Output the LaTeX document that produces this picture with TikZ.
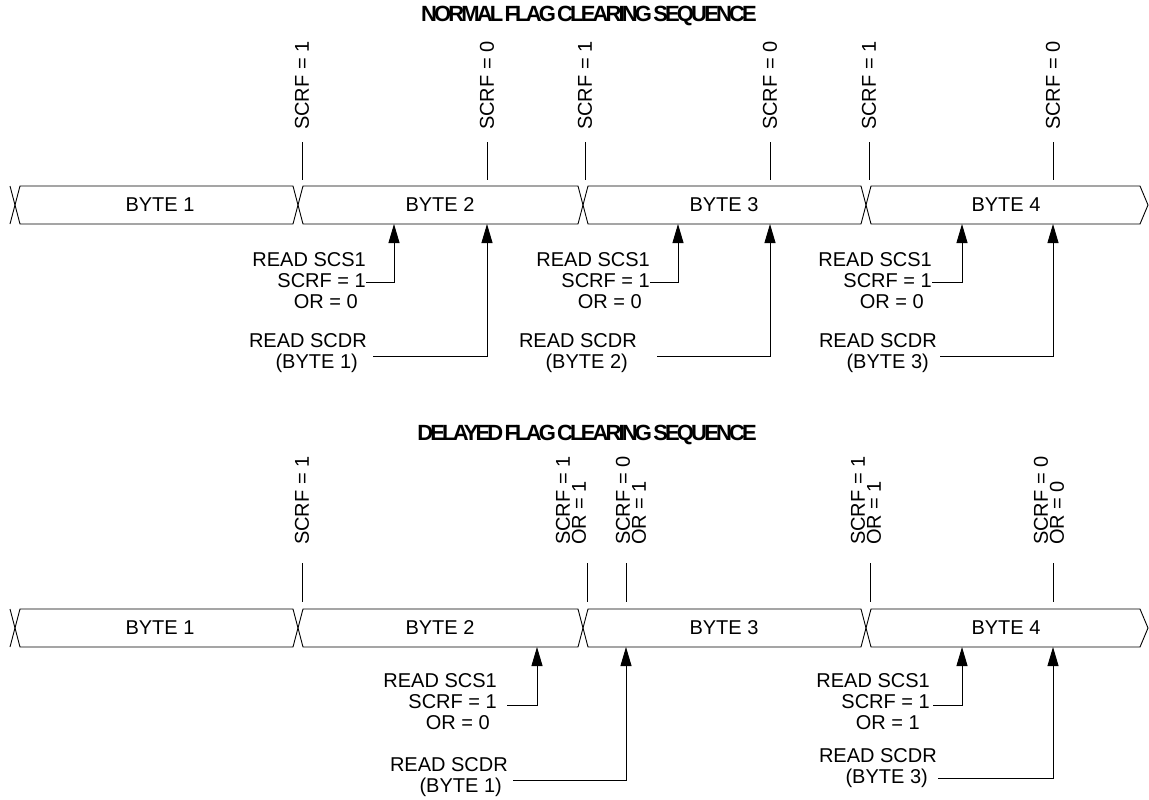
\documentclass[tikz,border=0pt]{standalone}
\usepackage{fontspec}
\setmainfont{Liberation Sans}
\newfontfamily\titlefont[LetterSpace=-13,WordSpace=0.4]{Liberation Sans}
\usetikzlibrary{arrows.meta}
\begin{document}
\begin{tikzpicture}[x=1pt,y=-1pt,
  bus/.style={line width=0.9pt, line join=miter},
  tickline/.style={line width=0.8pt},
  arr/.style={line width=0.9pt, -{Triangle[length=19pt,width=11pt]}},
  txt/.style={font=\fontsize{20}{21}\selectfont, inner sep=0pt},
  blk/.style={txt, align=right, anchor=east},
  vlbl/.style={font=\fontsize{20}{16}\selectfont, inner sep=0pt, rotate=90, anchor=west, align=left},
  ttl/.style={font=\titlefont\bfseries\fontsize{22}{24}\selectfont, inner sep=0pt, anchor=east}
]
\useasboundingbox (0,0) rectangle (1149,800);

% ---------- buses ----------
\foreach \t/\c/\b in {186/205/224, 609/628/647} {
  \draw[bus] (10,\t) -- (15,\c) -- (10,\b);
  \draw[bus] (15,\c) -- (20,\t) -- (293,\t) -- (298,\c) -- (293,\b) -- (20,\b) -- cycle;
  \draw[bus] (298,\c) -- (303,\t) -- (578,\t) -- (583,\c) -- (578,\b) -- (303,\b) -- cycle;
  \draw[bus] (583,\c) -- (588,\t) -- (861,\t) -- (866,\c) -- (861,\b) -- (588,\b) -- cycle;
  \draw[bus] (866,\c) -- (871,\t) -- (1140,\t) -- (1148,\c) -- (1140,\b) -- (871,\b) -- cycle;
}

% ---------- titles ----------
\node[ttl] (t1) at (757,15.5) {NORMAL FLAG CLEARING SEQUENCE};
\node[ttl] (t2) at (757,434.5) {DELAYED FLAG CLEARING SEQUENCE};

% ---------- byte labels ----------
\node[txt] (na) at (160,205) {BYTE 1};
\node[txt] (nb) at (440,205) {BYTE 2};
\node[txt] (nc) at (724,205) {BYTE 3};
\node[txt] (nd) at (1006,205) {BYTE 4};
\node[txt] (da) at (160,628) {BYTE 1};
\node[txt] (db) at (440,628) {BYTE 2};
\node[txt] (dc) at (724,628) {BYTE 3};
\node[txt] (dd) at (1006,628) {BYTE 4};

% ---------- normal: flag labels and ticks ----------
\foreach \x/\v [count=\i] in {302/1,487/0,585/1,770/0,869/1,1053/0} {
  \node[vlbl] (nl\i) at (\x,130) {SCRF = \v};
  \coordinate (nt\i a) at (\x,142);
  \coordinate (nt\i b) at (\x,180);
  \draw[tickline] (nt\i a) -- (nt\i b);
}

% ---------- delayed: flag labels and ticks ----------
\node[vlbl] (dl1) at (302,545) {SCRF = 1};
\node[vlbl] (dl2) at (571,545) {SCRF = 1\\OR = 1};
\node[vlbl] (dl3) at (631,545) {SCRF = 0\\OR = 1};
\node[vlbl] (dl4) at (866,545) {SCRF = 1\\OR = 1};
\node[vlbl] (dl5) at (1049,545) {SCRF = 0\\OR = 0};
\foreach \x [count=\i] in {302,587,626,870,1053} {
  \coordinate (dt\i a) at (\x,563);
  \coordinate (dt\i b) at (\x,602);
  \draw[tickline] (dt\i a) -- (dt\i b);
}

% ---------- normal: read annotations ----------
\coordinate (ts1) at (394,224);
\coordinate (tr1) at (487,224);
\coordinate (ts2) at (678,224);
\coordinate (tr2) at (770,224);
\coordinate (ts3) at (962,224);
\coordinate (tr3) at (1053,224);

\node[blk] (s1) at (366,281) {READ SCS1\\SCRF = 1\hspace*{4pt}\\OR = 0\hspace*{8pt}};
\node[blk] (r1) at (367,353.5) {READ SCDR\\(BYTE 1)\hspace*{9pt}};
\node[blk] (s2) at (650,281) {READ SCS1\\SCRF = 1\hspace*{4pt}\\OR = 0\hspace*{8pt}};
\node[blk] (r2) at (637,353.5) {READ SCDR\\(BYTE 2)\hspace*{9pt}};
\node[blk] (s3) at (932,281) {READ SCS1\\SCRF = 1\hspace*{4pt}\\OR = 0\hspace*{8pt}};
\node[blk] (r3) at (937,353.5) {READ SCDR\\(BYTE 3)\hspace*{8pt}};

\draw[arr] (s1.east |- 0,282) -| (ts1);
\draw[arr] (r1.east |- 0,356) ++(6,0) -| (tr1);
\draw[arr] (s2.east |- 0,282) -| (ts2);
\draw[arr] (r2.east |- 0,356) ++(20,0) -| (tr2);
\draw[arr] (s3.east |- 0,282) -| (ts3);
\draw[arr] (r3.east |- 0,356) ++(3,0) -| (tr3);

% ---------- delayed: read annotations ----------
\coordinate (ts4) at (537,647);
\coordinate (tr4) at (626,647);
\coordinate (ts5) at (962,647);
\coordinate (tr5) at (1053,647);

\node[blk] (s4) at (497,701.5) {READ SCS1\\SCRF = 1\hspace*{5pt}\\OR = 0\hspace*{7pt}};
\node[blk] (r4) at (508,777.5) {READ SCDR\\(BYTE 1)\hspace*{6pt}};
\node[blk] (s5) at (930,702) {READ SCS1\\SCRF = 1\hspace*{5pt}\\OR = 1\hspace*{10pt}};
\node[blk] (r5) at (937,768) {READ SCDR\\(BYTE 3)\hspace*{9pt}};

\draw[arr] (s4.east |- 0,705) ++(10,0) -| (ts4);
\draw[arr] (r4.east |- 0,780) ++(5,0) -| (tr4);
\draw[arr] (s5.east |- 0,705) ++(3,0) -| (ts5);
\draw[arr] (r5.east |- 0,778) ++(1,0) -| (tr5);
\end{tikzpicture}
\end{document}
